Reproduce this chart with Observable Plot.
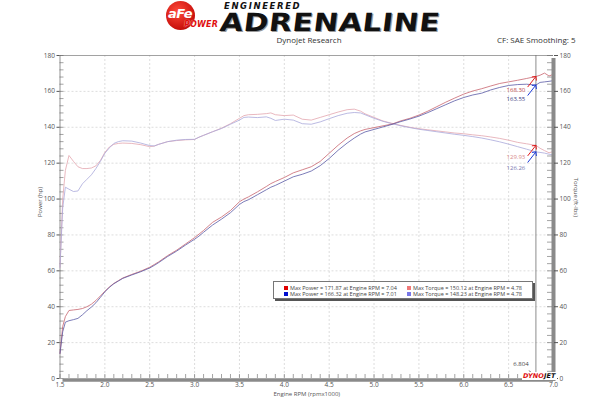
<!DOCTYPE html>
<html><head><meta charset="utf-8">
<script src="https://cdn.jsdelivr.net/npm/d3@7"></script>
<script src="https://cdn.jsdelivr.net/npm/@observablehq/plot@0.6"></script>
<style>
body{margin:0;background:#fff;font-family:"Open Sans",sans-serif;}
#wrap{position:relative;width:600px;height:406px;overflow:hidden;background:#fff}
#chart{position:absolute;left:0;top:0}
.abs{position:absolute;white-space:nowrap}
#logoCircle{left:166px;top:1px;width:29px;height:29px;border-radius:50%;background:radial-gradient(circle at 40% 35%,#ff4a3a,#c8100c 70%,#8a0000);}
#logoAfe{left:168px;top:6px;font:italic 900 13px "DejaVu Sans";color:#fff;letter-spacing:-0.5px}
#logoPower{left:184px;top:20px;font:italic 900 8px "DejaVu Sans";color:#e01010;letter-spacing:0.2px;text-shadow:0 0 1px #fff}
#eng{left:224px;top:1px;font:italic 900 8.5px "DejaVu Sans";color:#111;letter-spacing:1.6px}
#adr{left:222px;top:8px;font:900 25px "DejaVu Sans";letter-spacing:0.5px;color:#111;transform-origin:0 0;transform:scaleX(1.19) skewX(-6deg);text-shadow:1px 1px 0 #999}
#sub1{left:309px;top:34px;transform:translateX(-50%);font:8px "Open Sans";color:#333}
#sub2{left:497px;top:34px;font:8px "Open Sans";color:#333}
#legend{left:273px;top:281px;width:258px;height:16px;border:1px solid #777;background:#fff;box-shadow:2px 2px 0 #555;font:5.5px "Open Sans";color:#444}
.lrow{position:absolute;display:flex;align-items:center}
.sq{display:inline-block;width:4px;height:4px;margin-right:2px}
#dyno{left:522px;top:372px;font:italic 900 6.5px "DejaVu Sans";letter-spacing:0.1px;background:#fff;padding:0 1px}
</style></head><body>
<div id="wrap">
  <div id="chart"></div>
  <div id="logoCircle" class="abs"></div>
  <div id="logoAfe" class="abs">aFe</div>
  <div id="logoPower" class="abs">POWER</div>
  <div id="eng" class="abs">ENGINEERED</div>
  <div id="adr" class="abs">ADRENALINE</div>
  <div id="sub1" class="abs"></div>
  <div id="sub2" class="abs"></div>
  <div id="legend" class="abs"></div>
  <div id="dyno" class="abs"><span style="color:#e01010">DYNO</span><span style="color:#111">JET</span></div>
</div>
<script>
// ---- data ----
const headerTitle = "Dynojet Research";
const headerInfo = "CF: SAE Smoothing: 5";
const xLabel = "Engine RPM (rpmx1000)";
const yLeftLabel = "Power (hp)";
const yRightLabel = "Torque (ft-lbs)";

const rpm = [1.50,1.53,1.56,1.60,1.65,1.70,1.75,1.80,1.85,1.90,
             1.95,2.00,2.05,2.10,2.15,2.20,2.30,2.40,2.50,2.55,
             2.60,2.70,2.80,2.90,3.00,3.05,3.10,3.20,3.30,3.40,
             3.50,3.55,3.60,3.70,3.80,3.85,3.90,4.00,4.10,4.20,
             4.30,4.40,4.50,4.60,4.70,4.78,4.85,4.90,5.00,5.10,
             5.20,5.30,5.40,5.50,5.60,5.70,5.80,5.90,6.00,6.10,
             6.20,6.30,6.40,6.50,6.60,6.70,6.804,6.85,6.90,6.95,7.00];

const power1 = [14,29,34.5,37.9,38.2,38.5,39,40,41.4,43.5,
                46,48.6,51,53,54.5,56,58,59.8,62,63.5,
                65,68.5,71.5,75,78.5,80.5,82.5,87,90,93.6,
                98.5,100,101.2,104,107,108.6,109.8,112,114.6,116.3,
                118,121,125.5,130,134,136.5,138,138.8,139.8,140.8,
                141.8,143.6,145,146.8,149,151.5,154,156.3,158.5,160.2,
                161.5,163,164.4,165.3,166.2,167.2,168.30,169.0,170.2,168.6,169.5];

const power2 = [14,26,31.4,32.2,32.8,33.5,35.5,37.8,39.8,42.2,
                45.2,48.3,50.8,52.8,54.3,55.8,57.7,59.5,61.6,63,
                64.6,68,71,74.4,77.6,79.4,81.5,85.5,88.8,92.4,
                97,98.6,99.6,102.4,105.2,106.6,107.6,110,112.4,113.8,
                115.6,118.6,122.6,127.2,131.2,134,136.2,137.4,138.8,140.2,
                141.6,143.2,144.6,146.2,148.2,150.4,152.6,154.8,156.6,158,
                159,160.8,162.2,163.3,163.8,164,163.55,165,165.3,165.6,166];

const torque1 = [62,100,116,124.3,121,118,117,117,117.3,118.5,
                 121.5,126,129,130.5,131,131.2,131,130.3,129.2,129.5,
                 130.5,132,132.6,133,133.2,134.5,135.5,137.5,139.5,142,
                 145,146.5,147,147.2,147.6,148,147,146.5,146.8,144.5,
                 144,145.5,147,148.5,149.8,150.1,149,147.5,145.5,143.5,
                 142.2,141,140,139.2,138.6,138,137.4,136.8,136.4,135.8,
                 135.3,134.6,133.8,132.8,131.6,130.8,129.93,128.3,127,125.8,126.5];

const torque2 = [62,95,106.6,105.5,104.2,104.5,108.5,111,113.5,117,
                 121,125.5,128.5,131,132,132.5,132.3,131.2,129.8,129.6,
                 130.5,132,132.8,133.2,133.3,134.5,135.5,137.5,139.3,141.7,
                 144,145.5,145.7,145.4,145.8,145,143.8,144.5,144,142,
                 141.7,143,144.8,146.5,147.8,148.23,148,147,145,143.3,
                 142,140.8,139.8,138.9,138.2,137.5,136.8,136.1,135.5,134.8,
                 134,133,131.9,130.6,129.2,127.8,126.26,126,125.6,125,124.6];

const cursorRpm = 6.804;
const cursorValues = [168.30, 163.55, 129.93, 126.26];
const legendLabels = ["Max Power = 171.87 at Engine RPM = 7.04",
                      "Max Torque = 150.12 at Engine RPM = 4.78",
                      "Max Power = 166.32 at Engine RPM = 7.01",
                      "Max Torque = 148.23 at Engine RPM = 4.78"];
const xTicks = [1.5,2.0,2.5,3.0,3.5,4.0,4.5,5.0,5.5,6.0,6.5,7.0];
const yTicks = [0,20,40,60,80,100,120,140,160,180];

// ---- styles ----
const seriesColors = {p1:"#c8646e", p2:"#5a5aa6", t1:"#e3a6ae", t2:"#aaa8da"};
const legendColors = ["#e00000","#f07878","#0010d0","#7878e8"];
const cursorArrowColors = ["#e01818","#1838d8","#e01818","#1838d8"];
const cursorTextColors = ["#c04848","#3a3a80","#d88a8a","#7878b0"];
const cursorLabelDy = [14, 14, 12, 16];

document.getElementById("sub1").textContent = headerTitle;
document.getElementById("sub2").textContent = headerInfo;

const lg = document.getElementById("legend");
legendLabels.forEach((t,i)=>{
  const r = document.createElement("div");
  r.className = "lrow";
  r.style.left = (i%2===0 ? 10 : 133) + "px";
  r.style.top = (i<2 ? 1.5 : 8) + "px";
  r.innerHTML = `<span class="sq" style="background:${legendColors[i]}"></span><span>${t}</span>`;
  lg.appendChild(r);
});

const W = 600, H = 406, mL = 59.5, mR = 47, mT = 55, mB = 28;
const plotW = W - mL - mR, plotH = H - mT - mB;
const yMinor = d3.range(0, 181, 4);
const xMinor = d3.range(15, 71, 1).map(d => d / 10);

const mk = (arr) => rpm.map((r, i) => ({rpm: r, v: arr[i]}));
const cursorData = cursorValues.map((v, i) => ({rpm: cursorRpm, v, i}));

const plot = Plot.plot({
  width: W, height: H,
  marginLeft: mL, marginRight: mR, marginTop: mT, marginBottom: mB,
  x: {domain: [1.5, 7.0]},
  y: {domain: [0, 180]},
  style: {fontFamily: "'Open Sans', sans-serif", background: "transparent"},
  marks: [
    Plot.gridY(yTicks.slice(1, -1), {stroke: "#cfcfcf", strokeOpacity: 1, strokeDasharray: "2,2", strokeWidth: 0.7}),
    Plot.gridX(xTicks.slice(1, -1), {stroke: "#cfcfcf", strokeOpacity: 1, strokeDasharray: "2,2", strokeWidth: 0.7}),
    Plot.ruleY([180], {stroke: "#8a8a8a", strokeWidth: 0.8}),
    Plot.ruleX([1.5], {stroke: "#777", strokeWidth: 0.8}),
    Plot.tickY(yMinor, {y: d => d, insetRight: plotW - 4, stroke: "#666", strokeWidth: 0.6}),
    Plot.tickY(yMinor, {y: d => d, insetLeft: plotW - 6, stroke: "#666", strokeWidth: 0.6}),
    Plot.tickX(xMinor, {x: d => d, insetTop: plotH - 4, stroke: "#666", strokeWidth: 0.6}),
    Plot.line(mk(torque1), {x: "rpm", y: "v", stroke: seriesColors.t1, strokeWidth: 0.8}),
    Plot.line(mk(torque2), {x: "rpm", y: "v", stroke: seriesColors.t2, strokeWidth: 0.8}),
    Plot.line(mk(power1), {x: "rpm", y: "v", stroke: seriesColors.p1, strokeWidth: 0.8}),
    Plot.line(mk(power2), {x: "rpm", y: "v", stroke: seriesColors.p2, strokeWidth: 0.8}),
    Plot.ruleX([cursorRpm], {stroke: "#707070", strokeWidth: 0.8}),
    Plot.ruleX([7.0], {stroke: "#8a8a8a", strokeWidth: 4, insetTop: 3, insetBottom: -3}),
    Plot.ruleY([0], {stroke: "#8a8a8a", strokeWidth: 3.5, dy: 1.5, insetLeft: 3}),
    Plot.vector(cursorData, {x: "rpm", y: "v", anchor: "end", length: 13, rotate: 38, shape: "arrow",
      stroke: d => cursorArrowColors[d.i], strokeWidth: 0.9}),
    ...cursorData.map(d => Plot.text([d], {x: "rpm", y: "v", text: e => e.v.toFixed(2),
      dx: -20, dy: cursorLabelDy[d.i], fill: cursorTextColors[d.i], fontSize: 6})),
    Plot.vector([cursorRpm], {x: d => d, y: 0, anchor: "end", length: 10, rotate: 140, shape: "arrow", stroke: "#222", strokeWidth: 0.7}),
    Plot.text([cursorRpm], {x: d => d, frameAnchor: "bottom", text: d => d.toFixed(3), dx: -15, dy: -13, fontSize: 6, fill: "#444"}),
    Plot.axisY(yTicks, {anchor: "left", tickSize: 3, tickPadding: 2, fontSize: 6.5, color: "#555", label: null}),
    Plot.axisY(yTicks, {anchor: "right", tickSize: 4, tickPadding: 2, fontSize: 6.5, color: "#555", label: null}),
    Plot.axisX(xTicks, {anchor: "bottom", tickSize: 0, tickPadding: 4, fontSize: 6.5, color: "#555", label: null,
      tickFormat: d => d.toFixed(1)}),
    Plot.text([yLeftLabel], {frameAnchor: "left", dx: -20, rotate: -90, fontSize: 6, fill: "#555"}),
    Plot.text([yRightLabel], {frameAnchor: "right", dx: 22, rotate: 90, fontSize: 6, fill: "#555"}),
    Plot.text([xLabel], {frameAnchor: "bottom", dy: 17, fontSize: 6, fill: "#555"})
  ]
});
document.getElementById("chart").appendChild(plot);
</script>
</body></html>
